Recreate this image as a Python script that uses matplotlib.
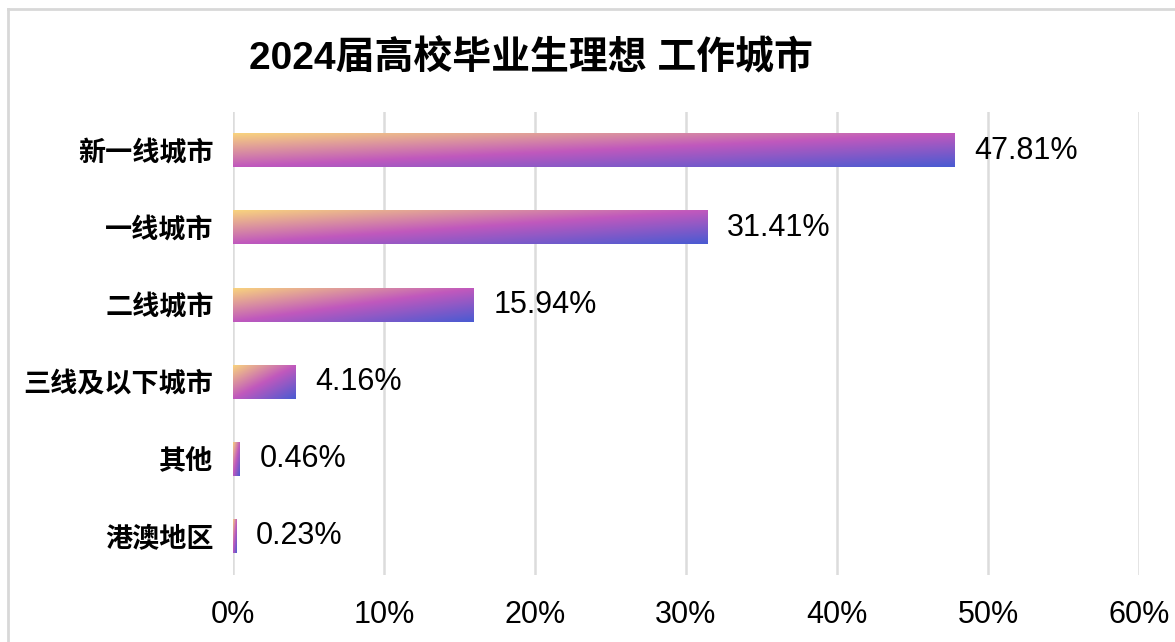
import numpy as np
import matplotlib.pyplot as plt
from matplotlib.colors import LinearSegmentedColormap
from matplotlib.lines import Line2D

# --- data ---
categories = ["新一线城市", "一线城市", "二线城市", "三线及以下城市", "其他", "港澳地区"]
values = [47.81, 31.41, 15.94, 4.16, 0.46, 0.23]
xticks = [0, 10, 20, 30, 40, 50, 60]
title = "2024届高校毕业生理想 工作城市"

plt.rcParams['font.family'] = ['Liberation Sans', 'Noto Sans CJK SC', 'DejaVu Sans']

fig = plt.figure(figsize=(11.75, 6.42), dpi=100)
ax = fig.add_axes([233 / 1175, 67 / 642, 906 / 1175, 463 / 642])

# diagonal gradient: yellow top-left -> magenta -> blue bottom-right
cmap = LinearSegmentedColormap.from_list(
    "bars", ["#f8d27e", "#c058bd", "#4a5bd2"])
nx, ny = 200, 40
u = np.linspace(0, 1, nx)[None, :]
v = np.linspace(0, 1, ny)[:, None]
grad = (u + v) / 2

bar_h = 0.43
for i, val in enumerate(values):
    ax.imshow(grad, cmap=cmap, origin='lower', aspect='auto',
              extent=(0, val, i - bar_h / 2, i + bar_h / 2),
              interpolation='bicubic', zorder=3)
    ax.annotate(f"{val:.2f}%", xy=(val, i), xytext=(14, 0),
                textcoords='offset points', va='center', ha='left',
                fontsize=22, color='black')

ax.set_xlim(0, 60)
ax.set_ylim(len(values) - 0.5, -0.5)
ax.set_xticks(xticks)
ax.set_xticklabels([f"{t}%" for t in xticks], fontsize=22)
ax.set_yticks(range(len(categories)))
ax.set_yticklabels(categories, fontsize=19.5, fontweight='bold')
ax.tick_params(axis='both', length=0)
ax.tick_params(axis='x', pad=18)
ax.tick_params(axis='y', pad=14)
ax.grid(axis='x', color='#dcdcdc', linewidth=1.8, zorder=0)
ax.set_axisbelow(True)
for s in ax.spines.values():
    s.set_visible(False)

fig.text(531 / 1175, 1 - 59 / 642, title, ha='center', va='center',
         fontsize=28, fontweight='bold')

# outer frame (top and left edges visible)
fig.add_artist(Line2D([7.5 / 1175, 7.5 / 1175], [0, 1 - 9 / 642],
                      color='#d8d8d8', linewidth=2, transform=fig.transFigure))
fig.add_artist(Line2D([7.5 / 1175, 1], [1 - 9 / 642, 1 - 9 / 642],
                      color='#d8d8d8', linewidth=2, transform=fig.transFigure))

fig.savefig("out.png", dpi=100)
